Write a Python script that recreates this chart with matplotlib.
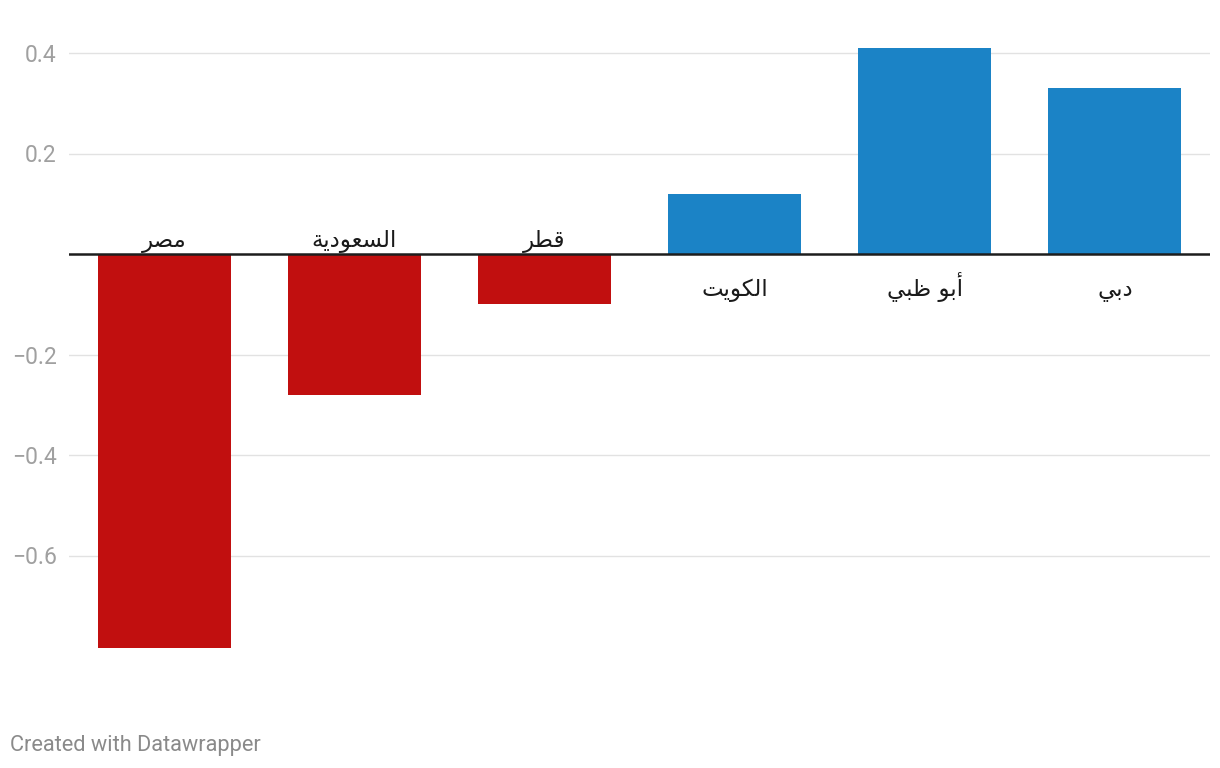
import matplotlib.pyplot as plt

# data
labels = ["مصر", "السعودية", "قطر", "الكويت", "أبو ظبي", "دبي"]
values = [-0.785, -0.28, -0.10, 0.12, 0.41, 0.33]
yticks = [-0.6, -0.4, -0.2, 0.2, 0.4]
ytick_labels = ["−0.6", "−0.4", "−0.2", "0.2", "0.4"]

RED = "#c10f0f"
BLUE = "#1b83c6"

# contextual forms (isolated, final, initial, medial) from Arabic Presentation Forms-B
FORMS = {
    "ا": (0xFE8D, 0xFE8E, None, None),
    "أ": (0xFE83, 0xFE84, None, None),
    "ب": (0xFE8F, 0xFE90, 0xFE91, 0xFE92),
    "ة": (0xFE93, 0xFE94, None, None),
    "ت": (0xFE95, 0xFE96, 0xFE97, 0xFE98),
    "د": (0xFEA9, 0xFEAA, None, None),
    "ر": (0xFEAD, 0xFEAE, None, None),
    "س": (0xFEB1, 0xFEB2, 0xFEB3, 0xFEB4),
    "ص": (0xFEB9, 0xFEBA, 0xFEBB, 0xFEBC),
    "ط": (0xFEC1, 0xFEC2, 0xFEC3, 0xFEC4),
    "ظ": (0xFEC5, 0xFEC6, 0xFEC7, 0xFEC8),
    "ع": (0xFEC9, 0xFECA, 0xFECB, 0xFECC),
    "ق": (0xFED5, 0xFED6, 0xFED7, 0xFED8),
    "ك": (0xFED9, 0xFEDA, 0xFEDB, 0xFEDC),
    "ل": (0xFEDD, 0xFEDE, 0xFEDF, 0xFEE0),
    "م": (0xFEE1, 0xFEE2, 0xFEE3, 0xFEE4),
    "و": (0xFEED, 0xFEEE, None, None),
    "ي": (0xFEF1, 0xFEF2, 0xFEF3, 0xFEF4),
}


def dual(ch):
    return ch in FORMS and FORMS[ch][2] is not None


def shape_arabic(text):
    """pick joined glyph forms and flip to visual order (matplotlib has no bidi)"""
    out = []
    for i, ch in enumerate(text):
        if ch not in FORMS:
            out.append(ch)
            continue
        prev = text[i - 1] if i > 0 else ""
        nxt = text[i + 1] if i + 1 < len(text) else ""
        join_prev = dual(prev)
        join_next = dual(ch) and nxt in FORMS
        iso, fin, ini, med = FORMS[ch]
        if join_prev and join_next:
            code = med
        elif join_prev:
            code = fin
        elif join_next:
            code = ini
        else:
            code = iso
        out.append(chr(code))
    return "".join(reversed(out))


fig = plt.figure(figsize=(12.2, 7.68), dpi=100)
ax = fig.add_axes([69 / 1220, 1 - 700 / 768, 1141 / 1220, 680 / 768])

x = list(range(len(values)))
colors = [RED if v < 0 else BLUE for v in values]
ax.bar(x, values, width=0.7, color=colors, zorder=2)

ax.set_xlim(-0.5, len(values) - 0.5)
ax.set_ylim((254 - 700) / 502.5, (254 - 20) / 502.5)

ax.set_yticks(yticks)
ax.set_yticklabels(ytick_labels, family=["Roboto", "DejaVu Sans"], fontsize=16.5, color="#a0a0a0")
ax.tick_params(axis="y", length=0, pad=9)
ax.set_xticks([])
for t in yticks:
    ax.axhline(t, color="#e2e2e2", lw=1, zorder=1)
ax.axhline(0, color="#1d1d1d", lw=1.8, zorder=3)

for s in ax.spines.values():
    s.set_visible(False)

for xi, lab, v in zip(x, labels, values):
    if v < 0:
        ax.annotate(shape_arabic(lab), (xi, 0), xytext=(0, 5), textcoords="offset points",
                    ha="center", va="baseline", family=["DejaVu Sans"], fontsize=16.5,
                    color="#1a1a1a")
    else:
        ax.annotate(shape_arabic(lab), (xi, 0), xytext=(0, -30), textcoords="offset points",
                    ha="center", va="baseline", family=["DejaVu Sans"], fontsize=16.5,
                    color="#1a1a1a")

fig.text(10 / 1220, 1 - 745 / 768, "Created with Datawrapper", ha="left", va="center",
         family=["Roboto"], fontsize=15.7, color="#8a8a8a")

fig.savefig("out.png", dpi=100, facecolor="white")
